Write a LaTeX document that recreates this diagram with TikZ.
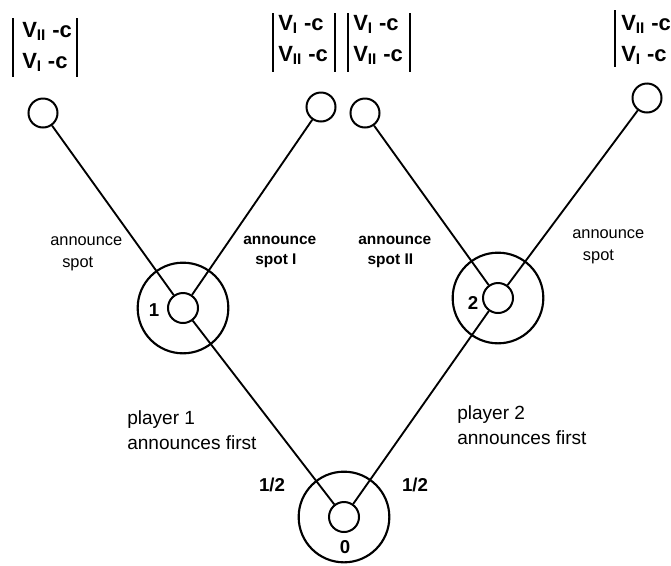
\documentclass[tikz,border=0pt]{standalone}
\usepackage{fontspec}
\setmainfont{Liberation Sans}
\begin{document}
\begin{tikzpicture}[x=0.75pt,y=-0.75pt,
  leaf/.style={circle,draw,line width=1.5pt,minimum size=21.75pt,inner sep=0pt},
  hub/.style={circle,draw,line width=1.5pt,minimum size=22.5pt,inner sep=0pt},
  ring/.style={circle,draw,line width=1.6pt,minimum size=68pt,inner sep=0pt},
  branch/.style={line width=1.4pt},
  pbar/.style={line width=2pt},
  payoff/.style={anchor=west,inner sep=0pt,align=left,font=\bfseries\fontsize{16.5}{23}\selectfont},
  movelab/.style={inner sep=0pt,align=left,font=\fontsize{12.3}{16.5}\selectfont},
  movebold/.style={movelab,font=\bfseries\fontsize{11.6}{15}\selectfont},
  chance/.style={inner sep=0pt,anchor=west,align=left,font=\fontsize{14.3}{18.75}\selectfont},
  num/.style={inner sep=0pt,font=\bfseries\fontsize{14}{16}\selectfont}]
\useasboundingbox (0,0) rectangle (671,565);

% terminal nodes
\node[leaf] (l1) at (43,113) {};
\node[leaf] (l2) at (321,107) {};
\node[leaf] (l3) at (365,113) {};
\node[leaf] (l4) at (647,98) {};

% decision nodes with their information rings
\node[hub] (n1) at (183,308) {};
\node[ring] (r1) at (183,308) {};
\node[hub] (n2) at (498,298) {};
\node[ring] (r2) at (498,298) {};
\node[hub] (n0) at (344,517) {};
\node[ring] (r0) at (344,517) {};

% branches
\draw[branch] (l1) -- (n1);
\draw[branch] (l2) -- (n1);
\draw[branch] (l3) -- (n2);
\draw[branch] (l4) -- (n2);
\draw[branch] (n1) -- (n0);
\draw[branch] (n2) -- (n0);

% node numbers
\node[num] (t1) at (154,310) {1};
\node[num] (t2) at (473,303) {2};
\node[num] (t0) at (345,547) {0};

% payoffs
\node[payoff] (p1) at (22,47) {V\textsubscript{II} -c\\V\textsubscript{I} -c};
\draw[pbar] (13,18) -- (13,77);
\draw[pbar] (77,18) -- (77,77);
\node[payoff] (p2) at (278,40) {V\textsubscript{I} -c\\V\textsubscript{II} -c};
\draw[pbar] (273,13) -- (273,72);
\draw[pbar] (335,13) -- (335,72);
\node[payoff] (p3) at (353,40) {V\textsubscript{I} -c\\V\textsubscript{II} -c};
\draw[pbar] (348,13) -- (348,72);
\draw[pbar] (410,13) -- (410,72);
\node[payoff] (p4) at (621,40) {V\textsubscript{II} -c\\V\textsubscript{I} -c};
\draw[pbar] (615,10) -- (615,67);

% move labels
\node[movelab,anchor=west] (m1) at (50,254) {announce\\\hspace*{9pt}spot};
\node[movebold,anchor=west] (m2) at (243,252) {announce\\\hspace*{9pt}spot I};
\node[movebold,anchor=west] (m3) at (358,252) {announce\\\hspace*{7pt}spot II};
\node[movelab,anchor=west] (m4) at (572,247) {announce\\\hspace*{8pt}spot};

% chance move labels
\node[chance] (c1) at (127,430) {player 1\\announces first};
\node[chance] (c2) at (457,425) {player 2\\announces first};
\node[num] (h1) at (272,485) {1/2};
\node[num] (h2) at (415,485) {1/2};
\end{tikzpicture}
\end{document}
